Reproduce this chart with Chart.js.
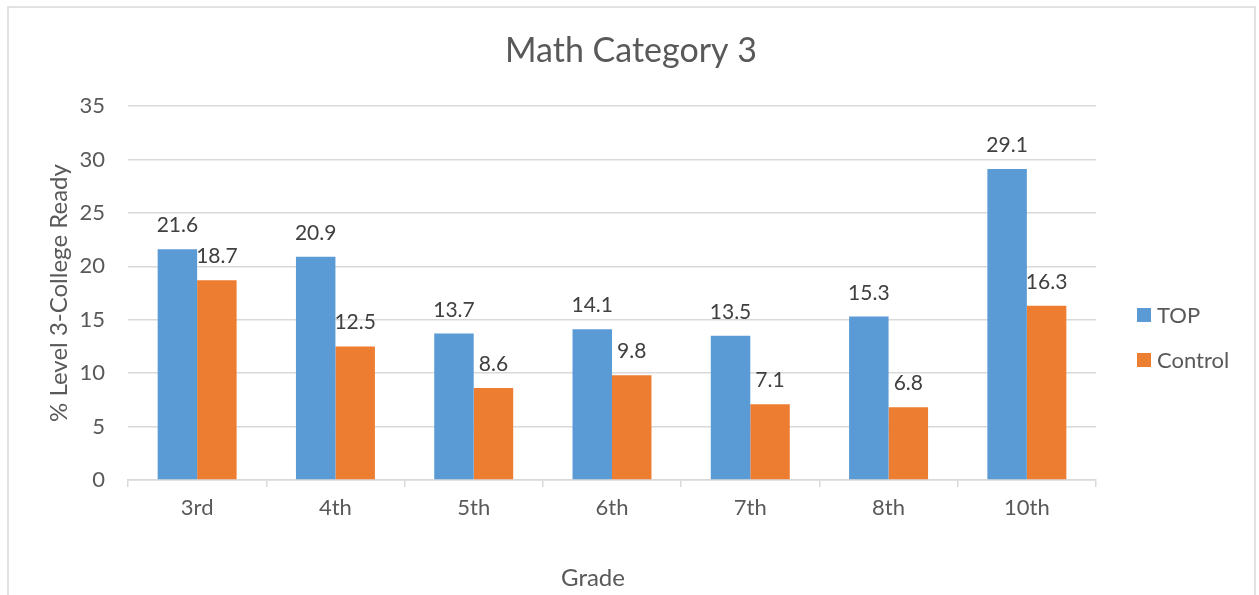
<!DOCTYPE html>
<html>
<head>
<meta charset="utf-8">
<script src="https://cdn.jsdelivr.net/npm/chart.js@4/dist/chart.umd.min.js"></script>
<style>
  html, body { margin: 0; padding: 0; background: #fff; }
  #wrap { width: 1259px; height: 595px; position: relative; }
</style>
</head>
<body>
<div id="wrap"><canvas id="chart" width="1259" height="595"></canvas></div>
<script>
const grades = ['3rd', '4th', '5th', '6th', '7th', '8th', '10th'];
const topValues = [21.6, 20.9, 13.7, 14.1, 13.5, 15.3, 29.1];
const controlValues = [18.7, 12.5, 8.6, 9.8, 7.1, 6.8, 16.3];
const seriesNames = ['TOP', 'Control'];
const chartTitle = 'Math Category 3';
const xTitle = 'Grade';
const yTitle = '% Level 3-College Ready';

const FONT = 'Lato, "Open Sans", sans-serif';
const TEXT = '#595959';

// rahmen, titel, x-titel
const framePlugin = {
    id: 'frame',
    beforeDraw(chart) {
        const ctx = chart.ctx;
        ctx.save();
        ctx.strokeStyle = '#d9d9d9';
        ctx.lineWidth = 1.5;
        ctx.beginPath();
        ctx.moveTo(8, 600);
        ctx.lineTo(8, 7);
        ctx.lineTo(1255, 7);
        ctx.lineTo(1255, 600);
        ctx.stroke();
        ctx.fillStyle = TEXT;
        ctx.textAlign = 'center';
        ctx.textBaseline = 'alphabetic';
        ctx.font = '34px ' + FONT;
        ctx.fillText(chartTitle, 631, 62);
        ctx.font = '24px ' + FONT;
        ctx.fillText(xTitle, 593, 586);
        ctx.restore();
    }
};

// werte über den balken
const labelPlugin = {
    id: 'barLabels',
    afterDatasetsDraw(chart) {
        const ctx = chart.ctx;
        ctx.save();
        ctx.fillStyle = '#404040';
        ctx.font = '21px ' + FONT;
        ctx.textAlign = 'center';
        ctx.textBaseline = 'alphabetic';
        chart.data.datasets.forEach((ds, i) => {
            chart.getDatasetMeta(i).data.forEach((bar, j) => {
                ctx.fillText(ds.data[j].toFixed(1), bar.x, bar.y - 17);
            });
        });
        ctx.restore();
    }
};

// legende rechts
const legendPlugin = {
    id: 'sideLegend',
    afterDraw(chart) {
        const ctx = chart.ctx;
        ctx.save();
        ctx.font = '22px ' + FONT;
        ctx.textBaseline = 'middle';
        ctx.textAlign = 'left';
        chart.data.datasets.forEach((ds, i) => {
            const cy = 315 + i * 45;
            ctx.fillStyle = ds.backgroundColor;
            ctx.fillRect(1137, cy - 7, 14, 14);
            ctx.fillStyle = TEXT;
            ctx.fillText(ds.label, 1157, cy + 1);
        });
        ctx.restore();
    }
};

new Chart(document.getElementById('chart'), {
    type: 'bar',
    data: {
        labels: grades,
        datasets: [
            { label: seriesNames[0], data: topValues, backgroundColor: '#5b9bd5' },
            { label: seriesNames[1], data: controlValues, backgroundColor: '#ed7d31' }
        ]
    },
    options: {
        responsive: false,
        animation: false,
        layout: { padding: { top: 106, right: 163, bottom: 0, left: 0 } },
        datasets: { bar: { categoryPercentage: 0.571, barPercentage: 1 } },
        plugins: {
            legend: { display: false },
            title: { display: false },
            tooltip: { enabled: false }
        },
        scales: {
            x: {
                afterFit(scale) { scale.height = 115; },
                grid: { drawOnChartArea: false, drawTicks: true, tickLength: 7, color: '#d9d9d9', lineWidth: 1.5 },
                border: { display: true, color: '#d9d9d9', width: 1.5 },
                ticks: { color: TEXT, font: { family: FONT, size: 22 }, padding: 8 }
            },
            y: {
                min: 0,
                max: 35,
                afterFit(scale) { scale.width = 128; },
                ticks: { stepSize: 5, color: TEXT, font: { family: FONT, size: 22 }, padding: 23 },
                grid: { drawTicks: false, color: '#d9d9d9', lineWidth: 1.5 },
                border: { display: false },
                title: { display: true, text: yTitle, color: TEXT, font: { family: FONT, size: 24 }, padding: { top: 45, bottom: 0 } }
            }
        }
    },
    plugins: [framePlugin, labelPlugin, legendPlugin]
});
</script>
</body>
</html>
